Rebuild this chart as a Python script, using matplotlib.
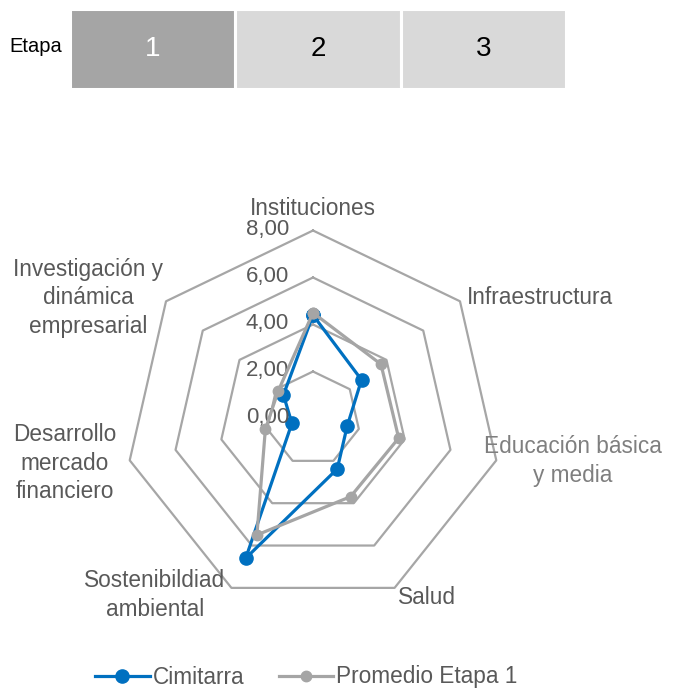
import numpy as np
import matplotlib
matplotlib.use("Agg")
import matplotlib.pyplot as plt
from matplotlib.lines import Line2D
from matplotlib.transforms import offset_copy

plt.rcParams['font.family'] = ['Liberation Sans Narrow', 'Liberation Sans', 'DejaVu Sans']

# ---- data ----
categorias = ["Instituciones", "Infraestructura", "Educación básica\ny media", "Salud",
              "Sostenibildiad\nambiental", "Desarrollo\nmercado\nfinanciero",
              "Investigación y\ndinámica\nempresarial"]
cimitarra = [4.40, 2.64, 1.49, 2.38, 6.60, 0.92, 1.61]
promedio = [4.50, 3.70, 3.74, 3.69, 5.50, 2.08, 1.89]
niveles = [2, 4, 6, 8]
tick_labels = ["0,00", "2,00", "4,00", "6,00", "8,00"]
tick_vals = [0, 2, 4, 6, 8]
etapas = ["1", "2", "3"]
etapa_activa = 0
series_names = ["Cimitarra", "Promedio Etapa 1"]

W, H = 683, 696
fig = plt.figure(figsize=(W / 100, H / 100), dpi=100)

def fx(px):
    return px / W

def fy(py):
    return 1 - py / H

# ---- header (Etapa boxes) ----
hx0, hx1, hy0, hy1 = 70, 566, 9, 89
hax = fig.add_axes([fx(hx0), fy(hy1), fx(hx1 - hx0), (hy1 - hy0) / H])
cols = ["#a5a5a5" if i == etapa_activa else "#d9d9d9" for i in range(len(etapas))]
hax.bar(range(len(etapas)), [1] * len(etapas), width=1, align='edge', color=cols,
        edgecolor='white', linewidth=2.2)
for i, e in enumerate(etapas):
    hax.text(i + 0.5, 0.5, e, ha='center', va='center', fontsize=20,
             color='white' if i == etapa_activa else 'black')
hax.set_xlim(0, len(etapas))
hax.set_ylim(0, 1)
hax.axis('off')
fig.text(fx(62), fy(46), "Etapa", ha='right', va='center', fontsize=14.5, color='black')

# ---- radar ----
cx, cy, R = 313, 418.5, 188
ax = fig.add_axes([fx(cx - R), fy(cy + R), fx(2 * R), 2 * R / H], projection='polar')
ax.set_theta_offset(np.pi / 2)
ax.set_theta_direction(-1)
ax.set_ylim(0, 8)
ax.set_xticks([])
ax.set_yticks([])
ax.grid(False)
ax.spines['polar'].set_visible(False)
ax.patch.set_visible(False)

n = len(categorias)
ang = np.linspace(0, 2 * np.pi, n, endpoint=False)
ang_c = np.concatenate([ang, ang[:1]])

for lv in niveles:
    ax.plot(ang_c, [lv] * (n + 1), color='#a6a6a6', lw=1.6, clip_on=False, zorder=1)

blue = '#0070c0'
grey = '#a5a5a5'
c_vals = np.array(cimitarra + cimitarra[:1])
p_vals = np.array(promedio + promedio[:1])
ax.plot(ang_c, c_vals, color=blue, lw=2.3, marker='o', ms=9.5, clip_on=False, zorder=3)
ax.plot(ang_c, p_vals, color=grey, lw=2.3, marker='o', ms=7.5, clip_on=False, zorder=4)

tr = offset_copy(ax.transData, fig=fig, x=-24 * 0.72, y=1 * 0.72, units='points')
for v, t in zip(tick_vals, tick_labels):
    ax.text(0, v, t, transform=tr, ha='right', va='center', fontsize=16, color='#595959')

# category labels
lab_pos = [(313, 208, 'center'), (467, 298, 'left'), (573, 461, 'center'),
           (427, 597, 'center'), (155, 595, 'center'), (65, 463, 'center'),
           (88, 298, 'center')]
for i, (lab, (x, y, ha)) in enumerate(zip(categorias, lab_pos)):
    col = '#7f7f7f' if i == 2 else '#595959'
    fig.text(fx(x), fy(y), lab, ha=ha, va='center', fontsize=16.3, color=col,
             linespacing=1.28, multialignment='center')

# legend
handles = [Line2D([], [], color=blue, lw=2.3, marker='o', ms=9.5),
           Line2D([], [], color=grey, lw=2.3, marker='o', ms=7.5)]
leg = fig.legend(handles, series_names, loc='center', bbox_to_anchor=(fx(306.5), fy(677)),
                 ncol=2, frameon=False, fontsize=16.3, handlelength=2.4,
                 handletextpad=0.15, columnspacing=1.5, borderpad=0, borderaxespad=0)
for t in leg.get_texts():
    t.set_color('#595959')

fig.savefig("out.png", dpi=100)
